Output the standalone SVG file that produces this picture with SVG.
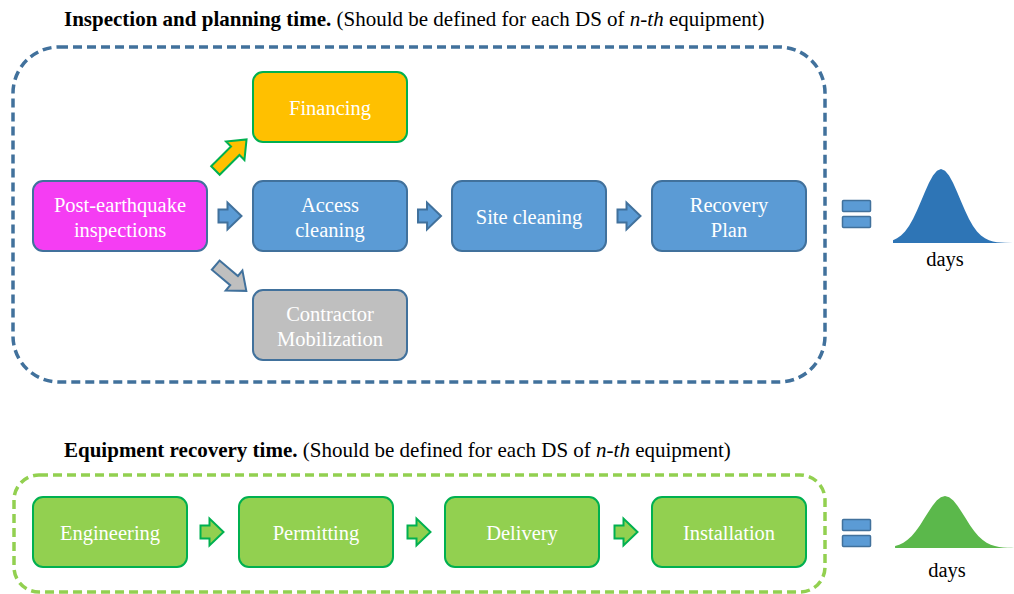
<svg xmlns="http://www.w3.org/2000/svg" width="1014" height="594" viewBox="0 0 1014 594">
  <style>
    .title { font-family: "Liberation Serif", "Times New Roman", serif; font-size: 21px; fill: #000; }
    .label { font-family: "Liberation Serif", "Times New Roman", serif; font-size: 20.5px; fill: #fff; text-anchor: middle; }
    .days { font-family: "Liberation Serif", "Times New Roman", serif; font-size: 20.5px; fill: #000; text-anchor: middle; }
    .box { stroke-width: 2; }
    .blue { fill: #5B9BD5; stroke: #41719C; }
    .magenta { fill: #F53DF3; stroke: #41719C; }
    .gold { fill: #FFC000; stroke: #00B050; }
    .grey { fill: #BFBFBF; stroke: #41719C; }
    .green { fill: #92D050; stroke: #00B050; }
    .arrow { stroke-width: 2; stroke-linejoin: miter; }
  </style>
  <defs>
    <!-- short block arrow, centred on its own origin, pointing right -->
    <path id="blockArrow" d="M -11.5,-6.5 H -2.5 V -13.5 L 11.5,0 L -2.5,13.5 V 6.5 H -11.5 Z"/>
    <!-- normal distribution outline, baseline at y=0 -->
    <path id="bell" d="M -48,0 L -48,-2.75 L -44,-4.65 L -40,-7.51 L -36,-11.6 L -32,-17.1 L -28,-24.1 L -24,-32.5 L -20,-41.8 L -16,-51.3 L -12,-60.2 L -8,-67.5 L -4,-72.3 L 0,-74 L 4,-72.3 L 8,-67.5 L 12,-60.2 L 16,-51.3 L 20,-41.8 L 24,-32.5 L 28,-24.1 L 32,-17.1 L 36,-11.6 L 40,-7.51 L 44,-4.65 L 48,-2.75 L 52,-1.55 L 56,-0.83 L 60,-0.43 L 64,-0.21 L 72,0 Z"/>
  </defs>

  <!-- headings -->
  <text class="title" x="64" y="26"><tspan font-weight="bold">Inspection and planning time.</tspan> (Should be defined for each DS of <tspan font-style="italic">n-th</tspan> equipment)</text>
  <text class="title" x="64" y="457"><tspan font-weight="bold">Equipment recovery time.</tspan> (Should be defined for each DS of <tspan font-style="italic">n-th</tspan> equipment)</text>

  <!-- dashed group frames -->
  <rect x="13" y="47" width="812" height="335" rx="46" fill="none" stroke="#41719C" stroke-width="3.5" stroke-dasharray="9 5"/>
  <rect x="14" y="475" width="811" height="117" rx="25" fill="none" stroke="#92D050" stroke-width="3.5" stroke-dasharray="9 5"/>

  <!-- connectors -->
  <g id="connectors">
    <use href="#blockArrow" class="arrow blue" transform="translate(230,216)"/>
    <use href="#blockArrow" class="arrow blue" transform="translate(429.5,216)"/>
    <use href="#blockArrow" class="arrow blue" transform="translate(629,216)"/>
    <path class="arrow gold" d="M -22,-6 H 6 V -13 L 22,0 L 6,13 V 6 H -22 Z" transform="translate(231,155) rotate(-45)"/>
    <path class="arrow grey" d="M -20,-6 H 4 V -13 L 20,0 L 4,13 V 6 H -20 Z" transform="translate(231,278) rotate(40)"/>
    <use href="#blockArrow" class="arrow green" transform="translate(212,532)"/>
    <use href="#blockArrow" class="arrow green" transform="translate(419,532)"/>
    <use href="#blockArrow" class="arrow green" transform="translate(626,532)"/>
  </g>

  <!-- inspection and planning steps -->
  <g id="financing">
    <rect class="box gold" x="253" y="72" width="154" height="70" rx="10"/>
    <text class="label" x="330" y="115">Financing</text>
  </g>
  <g id="post-earthquake-inspections">
    <rect class="box magenta" x="33" y="181" width="174" height="70" rx="10"/>
    <text class="label" x="120" y="212">Post-earthquake</text>
    <text class="label" x="120" y="237">inspections</text>
  </g>
  <g id="access-cleaning">
    <rect class="box blue" x="253" y="181" width="154" height="70" rx="10"/>
    <text class="label" x="330" y="212">Access</text>
    <text class="label" x="330" y="237">cleaning</text>
  </g>
  <g id="site-cleaning">
    <rect class="box blue" x="452" y="181" width="154" height="70" rx="10"/>
    <text class="label" x="529" y="224">Site cleaning</text>
  </g>
  <g id="recovery-plan">
    <rect class="box blue" x="652" y="181" width="154" height="70" rx="10"/>
    <text class="label" x="729" y="212">Recovery</text>
    <text class="label" x="729" y="237">Plan</text>
  </g>
  <g id="contractor-mobilization">
    <rect class="box grey" x="253" y="290" width="154" height="70" rx="10"/>
    <text class="label" x="330" y="321">Contractor</text>
    <text class="label" x="330" y="346">Mobilization</text>
  </g>

  <!-- equipment recovery steps -->
  <g id="engineering">
    <rect class="box green" x="33" y="497" width="154" height="70" rx="10"/>
    <text class="label" x="110" y="540">Engineering</text>
  </g>
  <g id="permitting">
    <rect class="box green" x="239" y="497" width="154" height="70" rx="10"/>
    <text class="label" x="316" y="540">Permitting</text>
  </g>
  <g id="delivery">
    <rect class="box green" x="445" y="497" width="154" height="70" rx="10"/>
    <text class="label" x="522" y="540">Delivery</text>
  </g>
  <g id="installation">
    <rect class="box green" x="652" y="497" width="154" height="70" rx="10"/>
    <text class="label" x="729" y="540">Installation</text>
  </g>

  <!-- results: equals sign and duration distributions -->
  <g id="planning-result">
    <rect x="842.5" y="200.5" width="28" height="11" rx="1" fill="#5B9BD5" stroke="#41719C" stroke-width="1.5"/>
    <rect x="842.5" y="216.5" width="28" height="11" rx="1" fill="#5B9BD5" stroke="#41719C" stroke-width="1.5"/>
    <use href="#bell" fill="#2E75B6" transform="translate(941,243)"/>
    <text class="days" x="945" y="266">days</text>
  </g>
  <g id="recovery-result">
    <rect x="842.5" y="519.5" width="28" height="11" rx="1" fill="#5B9BD5" stroke="#41719C" stroke-width="1.5"/>
    <rect x="842.5" y="535.5" width="28" height="11" rx="1" fill="#5B9BD5" stroke="#41719C" stroke-width="1.5"/>
    <use href="#bell" fill="#5BB84B" transform="translate(945,548) scale(1.04,0.703)"/>
    <text class="days" x="947" y="577">days</text>
  </g>
</svg>
